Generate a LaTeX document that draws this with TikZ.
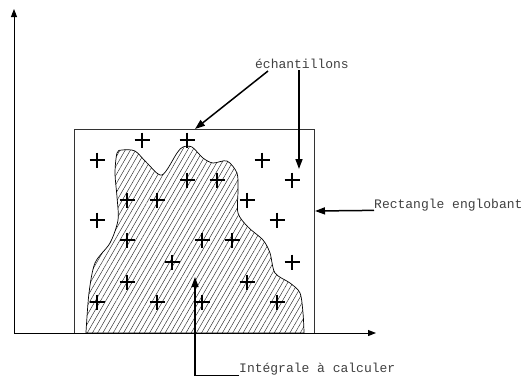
\documentclass[tikz,border=0pt]{standalone}
\usepackage{fontspec}
\setmonofont{Liberation Mono}
\usetikzlibrary{arrows.meta,patterns.meta}
\tikzset{
  lbl/.style={font=\ttfamily\fontsize{13}{15}\selectfont, text=black!75, inner sep=0pt},
  annot/.style={line width=1.5pt, -{Triangle[length=10pt,width=7pt]}},
  axis/.style={line width=1pt, -{Triangle[length=8pt,width=6pt]}},
  smp/.pic={\draw[line width=1.2pt] (-7.5,0)--(7.5,0) (0,-7.5)--(0,7.5);}
}
\begin{document}
\begin{tikzpicture}[x=1pt,y=-1pt]
\useasboundingbox (0,0) rectangle (525,376);
% hatched region
\draw[line width=0.7pt, pattern={Lines[angle=60,distance=4.5pt,line width=0.45pt]}, pattern color=black!85]
  (86,333) -- plot[smooth, tension=0.5] coordinates {(86,332) (89,293) (95,263) (110,243) (118,220) (117,197) (115,173) (117,153) (122,150) (135,151) (147,163) (162,175) (177,153) (183,147) (192,147) (203,158) (213,163) (227,161) (237,173) (238,190) (238,213) (248,227) (263,240) (270,253) (275,273) (290,283) (300,293) (303,313) (304,332)} -- (304,333) -- cycle;
% bounding rectangle
\draw[line width=0.9pt, draw=black!80] (74,333) rectangle (314,129);
% axes
\coordinate (O) at (14,333);
\coordinate (Xend) at (376,333);
\coordinate (Yend) at (14,9);
\draw[axis] (O) -- (Xend);
\draw[axis] (O) -- (Yend);
% samples
\foreach \x/\y in {142/140,187/140,97/160,262/160,292/180,187/180,217/180,127/200,157/200,247/200,97/220,277/220,127/240,202/240,232/240,172/262,292/262,127/282,247/282,97/302,157/302,202/302,277/302}
  \pic at (\x,\y) {smp};
% labels
\node[lbl] (ech) at (302,64) {échantillons};
\node[lbl, anchor=west] (reng) at (374,205) {Rectangle englobant};
\node[lbl, anchor=west] (integ) at (239,369) {Intégrale à calculer};
% arrow targets
\coordinate (t1) at (195,129);
\coordinate (t2) at (299,169);
\coordinate (t3) at (315,211);
\coordinate (t4) at (195,277);
\coordinate (s1) at (268,71);
\coordinate (s2) at (299,70);
\draw[annot] (s1) -- (t1);
\draw[annot] (s2) -- (t2);
\draw[annot] ([yshift=-2pt]reng.base west) -- (t3);
\draw[annot] ([yshift=-3pt]integ.base west) -| (t4);
\end{tikzpicture}
\end{document}
